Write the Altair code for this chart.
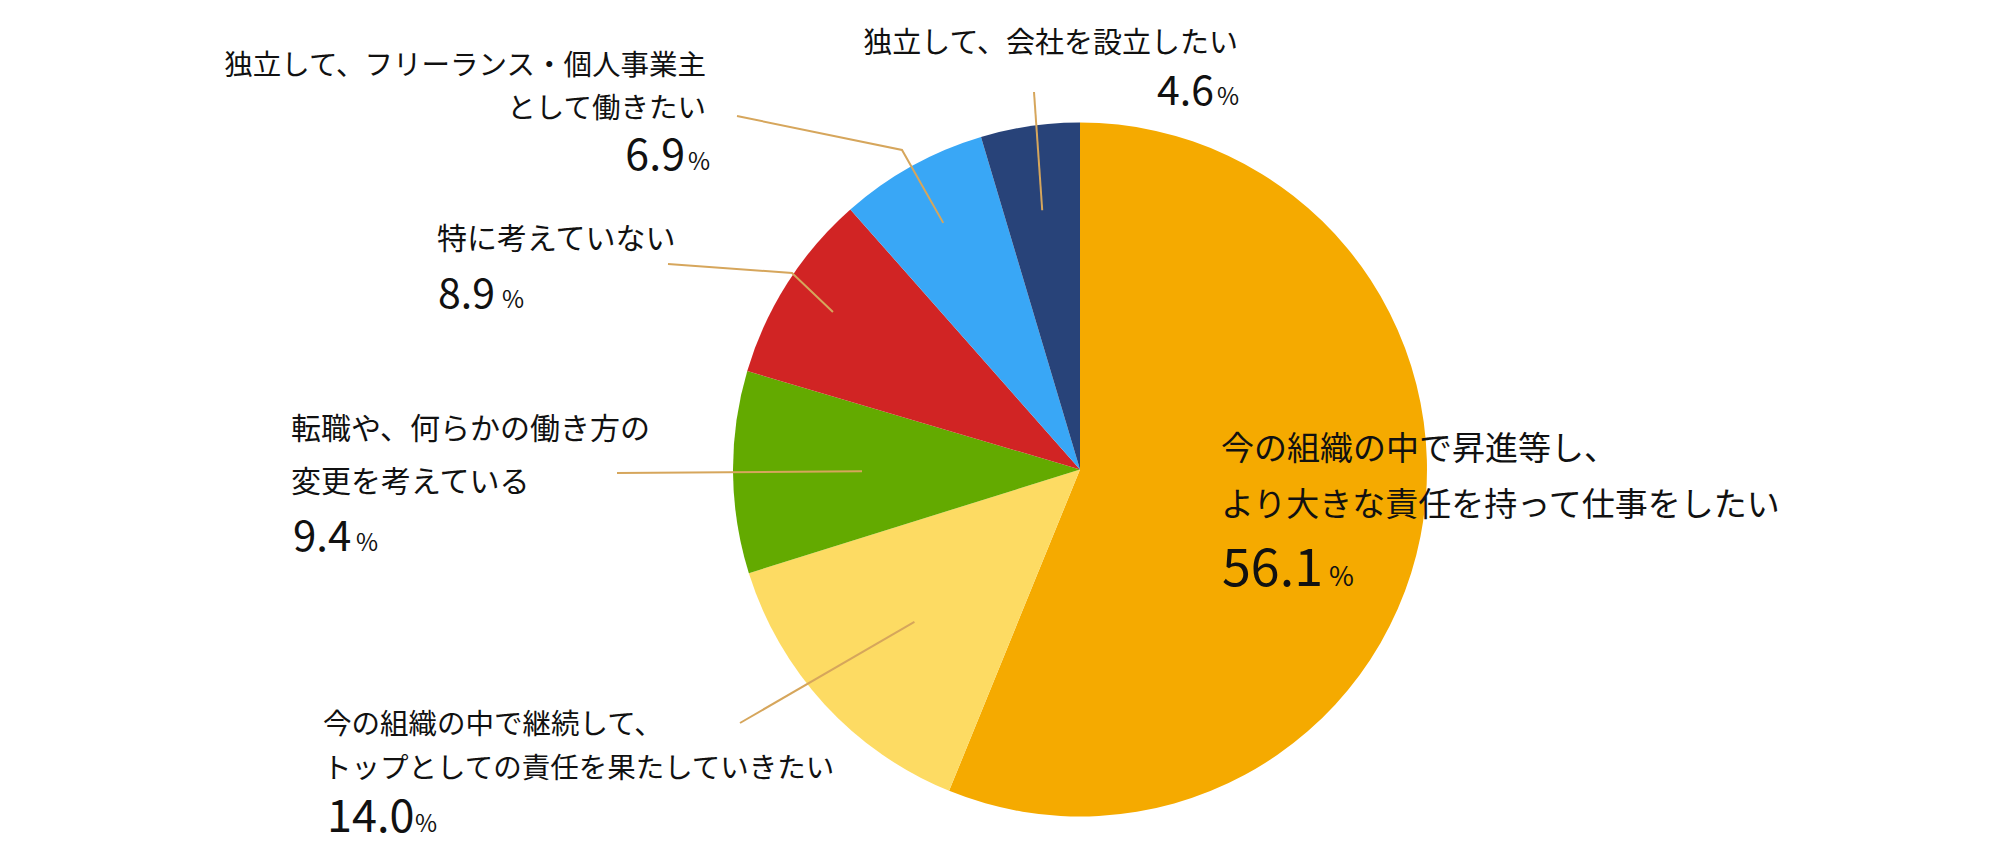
import math
import altair as alt
import pandas as pd

# ---------------- data ----------------
categories = [
    "今の組織の中で昇進等し、より大きな責任を持って仕事をしたい",
    "今の組織の中で継続して、トップとしての責任を果たしていきたい",
    "転職や、何らかの働き方の変更を考えている",
    "特に考えていない",
    "独立して、フリーランス・個人事業主として働きたい",
    "独立して、会社を設立したい",
]
label_lines = [
    ["今の組織の中で昇進等し、", "より大きな責任を持って仕事をしたい"],
    ["今の組織の中で継続して、", "トップとしての責任を果たしていきたい"],
    ["転職や、何らかの働き方の", "変更を考えている"],
    ["特に考えていない"],
    ["独立して、フリーランス・個人事業主", "として働きたい"],
    ["独立して、会社を設立したい"],
]
values = [56.1, 14.0, 9.4, 8.9, 6.9, 4.6]
colors = ["#F5AA00", "#FDDB63", "#63AA00", "#D12424", "#39A7F6", "#284379"]

# ---------------- layout (page pixels) ----------------
W, H = 1984, 840
CX, CY, R = 1080, 469.5, 347
FONT = "Noto Sans CJK JP"

# per label: align, text x, line baselines, line font, number edge x, number baseline,
# number font, percent left x, percent font
label_layout = [
    dict(align="left", x=1221, ys=[460, 516], fs=33, nx=1222, ny=586, nfs=52, px=1329, pfs=27),
    dict(align="left", x=323, ys=[734, 778], fs=28.5, nx=327, ny=832, nfs=45, px=415, pfs=24),
    dict(align="left", x=291, ys=[439, 492], fs=30, nx=293, ny=551, nfs=42, px=356, pfs=24),
    dict(align="left", x=437, ys=[249], fs=30, nx=438, ny=308, nfs=41, px=502, pfs=24),
    dict(align="right", x=706, ys=[75, 118], fs=28.5, nx=685, ny=170, nfs=43, px=688, pfs=24),
    dict(align="right", x=1238, ys=[53], fs=29, nx=1214, ny=105, nfs=41, px=1217, pfs=24),
]

# leader lines: inner radius along slice mid-angle, then outer points
leader_layout = {
    1: dict(r=225, pts=[(740, 723)]),
    2: dict(r=218, pts=[(617, 473)]),
    3: dict(r=293, pts=[(792, 273), (668, 264)]),
    4: dict(r=282, pts=[(902, 150), (737, 116)]),
    5: dict(r=262, pts=[(1034, 92)]),
}

# ---------------- tables ----------------
pie_df = pd.DataFrame({"cat": categories, "value": values, "idx": list(range(len(values)))})

rows = []
for i, lay in enumerate(label_layout):
    for line, y in zip(label_lines[i], lay["ys"]):
        rows.append(dict(text=line, x=lay["x"], y=y, fs=lay["fs"], align=lay["align"]))
    rows.append(dict(text=f"{values[i]:.1f}", x=lay["nx"], y=lay["ny"], fs=lay["nfs"], align=lay["align"]))
    rows.append(dict(text="%", x=lay["px"], y=lay["ny"], fs=lay["pfs"], align="left"))
text_df = pd.DataFrame(rows)

total = sum(values)
cum = 0.0
mids = []
for v in values:
    mids.append((cum + v / 2) / total * 2 * math.pi)
    cum += v

lrows = []
for i, lay in leader_layout.items():
    a = mids[i]
    pts = [(CX + lay["r"] * math.sin(a), CY - lay["r"] * math.cos(a))] + lay["pts"]
    for k, (px, py) in enumerate(pts):
        lrows.append(dict(lid=i, k=k, x=px, y=py))
leader_df = pd.DataFrame(lrows)

xs = alt.Scale(domain=[8, 8 + W], range=[0, W], nice=False, zero=False)
ys = alt.Scale(domain=[8, 8 + H], range=[0, H], nice=False, zero=False)

pie = alt.Chart(pie_df).mark_arc(outerRadius=R).encode(
    theta=alt.Theta("value:Q", stack=True),
    color=alt.Color("cat:N", scale=alt.Scale(domain=categories, range=colors), legend=None),
    order=alt.Order("idx:Q"),
    x=alt.value(CX - 8),
    y=alt.value(CY - 8),
)

leaders = alt.Chart(leader_df).mark_line(color="#D6A65C", strokeWidth=2).encode(
    x=alt.X("x:Q", scale=xs, axis=None),
    y=alt.Y("y:Q", scale=ys, axis=None),
    detail="lid:N",
    order="k:Q",
)

def text_layer(al):
    return alt.Chart(text_df).transform_filter(alt.datum.align == al).mark_text(
        align=al, baseline="alphabetic", font=FONT, color="#111111"
    ).encode(
        x=alt.X("x:Q", scale=xs, axis=None),
        y=alt.Y("y:Q", scale=ys, axis=None),
        text="text:N",
        size=alt.Size("fs:Q", scale=None, legend=None),
    )

chart = alt.layer(pie, leaders, text_layer("left"), text_layer("right")).properties(
    width=W, height=H, autosize=alt.AutoSizeParams(type="none"), padding=0, background="white"
).configure_view(stroke=None)

chart.save("out.html", embed_options={"renderer": "svg", "actions": False})
